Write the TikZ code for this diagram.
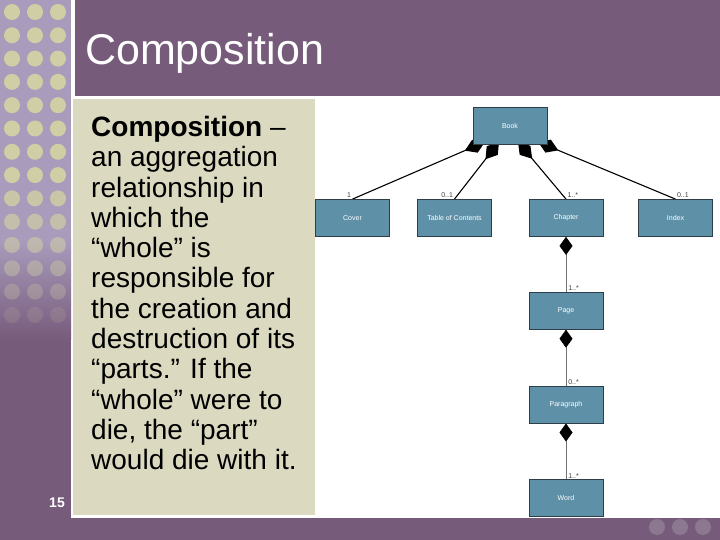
\documentclass[tikz,border=0pt]{standalone}
\usepackage{fontspec}
\setmainfont{Liberation Sans}
\usetikzlibrary{arrows.meta,positioning}
\pgfdeclarelayer{back}
\pgfdeclarelayer{bg}
\pgfsetlayers{back,bg,main}
\definecolor{slidepurple}{HTML}{775B7B}
\definecolor{lavender}{HTML}{A99BBC}
\definecolor{dotgreen}{HTML}{CFCEA4}
\definecolor{panel}{HTML}{DBDAC1}
\definecolor{classblue}{HTML}{5E91A8}
\definecolor{classedge}{HTML}{2E3E48}
\definecolor{footdot}{HTML}{8C7890}

\begin{document}
\begin{tikzpicture}[x=1pt,y=1pt,
  cls/.style={draw=classedge,fill=classblue,line width=0.8pt,minimum width=74pt,minimum height=37pt,inner sep=0pt,text=white,font=\fontsize{7}{8}\selectfont},
  comp/.style={{Diamond[length=22pt,width=14pt]}-,line width=1.1pt},
  compv/.style={{Diamond[length=18pt,width=13pt,color=black]}-,draw=black!55,line width=0.6pt},
  mult/.style={font=\fontsize{7}{8}\selectfont,text=black!75,inner sep=1pt},
  node distance=56pt]
  \useasboundingbox (0,0) rectangle (720,540);
  \begin{pgfonlayer}{back}
  \fill[white] (0,0) rectangle (720,540);
  \fill[lavender] (0,540) rectangle (71,300);
  \shade[top color=lavender,bottom color=slidepurple] (0,300) rectangle (71,200);
  \fill[slidepurple] (0,200) rectangle (71,22);
  \fill[slidepurple] (0,0) rectangle (720,22);
  \fill[slidepurple] (75,540) rectangle (720,444);
  \fill[panel] (73,441) rectangle (315,25);
  \foreach \row in {0,...,13}{
    \pgfmathsetmacro\op{min(1,(14-\row)/7)}
    \foreach \col in {12,35,58}
      \fill[dotgreen,opacity=\op] (\col,{528-23.3*\row}) circle (8);
  }
  \foreach \col in {657,680,703}
    \fill[footdot] (\col,13) circle (8);
  \end{pgfonlayer}

  \node[anchor=base west,inner sep=0pt,text=white,font=\fontsize{43}{50}\selectfont] (title) at (85,475) {Composition};
  \node[anchor=north west,inner sep=0pt,align=left,font=\fontsize{28}{30.3}\selectfont] (defn) at (91,424)
    {\textbf{Composition} --\\an aggregation\\relationship in\\which the\\“whole” is\\responsible for\\the creation and\\destruction of its\\“parts.” If the\\“whole” were to\\die, the “part”\\would die with it.};
  \node[anchor=base east,inner sep=0pt,text=white,font=\fontsize{14}{16}\selectfont\bfseries] (slideno) at (65,32) {15};

  \node[cls] (book) at (510,414) {Book};
  \node[cls] (cover) at (352.5,322) {Cover};
  \node[cls] (toc) at (454.5,322) {Table of Contents};
  \node[cls] (chapter) at (566,322) {Chapter};
  \node[cls] (index) at (675.5,322) {Index};
  \node[cls,below=55pt of chapter] (page) {Page};
  \node[cls,below=of page] (paragraph) {Paragraph};
  \node[cls,below=of paragraph] (word) {Word};

  \begin{pgfonlayer}{bg}
  \draw[comp] ([xshift=-25pt,yshift=3pt]book.south) -- (cover.north) node[mult,anchor=south east] (m1) {1};
  \draw[comp] ([xshift=-11pt,yshift=3pt]book.south) -- (toc.north) node[mult,anchor=south east] (m2) {0..1};
  \draw[comp] ([xshift=8pt,yshift=3pt]book.south) -- (chapter.north) node[mult,anchor=south west] (m3) {1..*};
  \draw[comp] ([xshift=28pt,yshift=3pt]book.south) -- (index.north) node[mult,anchor=south west] (m4) {0..1};
  \end{pgfonlayer}
  \draw[compv] (chapter.south) -- (page.north) node[mult,anchor=south west,xshift=1pt] (m5) {1..*};
  \draw[compv] (page.south) -- (paragraph.north) node[mult,anchor=south west,xshift=1pt] (m6) {0..*};
  \draw[compv] (paragraph.south) -- (word.north) node[mult,anchor=south west,xshift=1pt] (m7) {1..*};
\end{tikzpicture}
\end{document}
